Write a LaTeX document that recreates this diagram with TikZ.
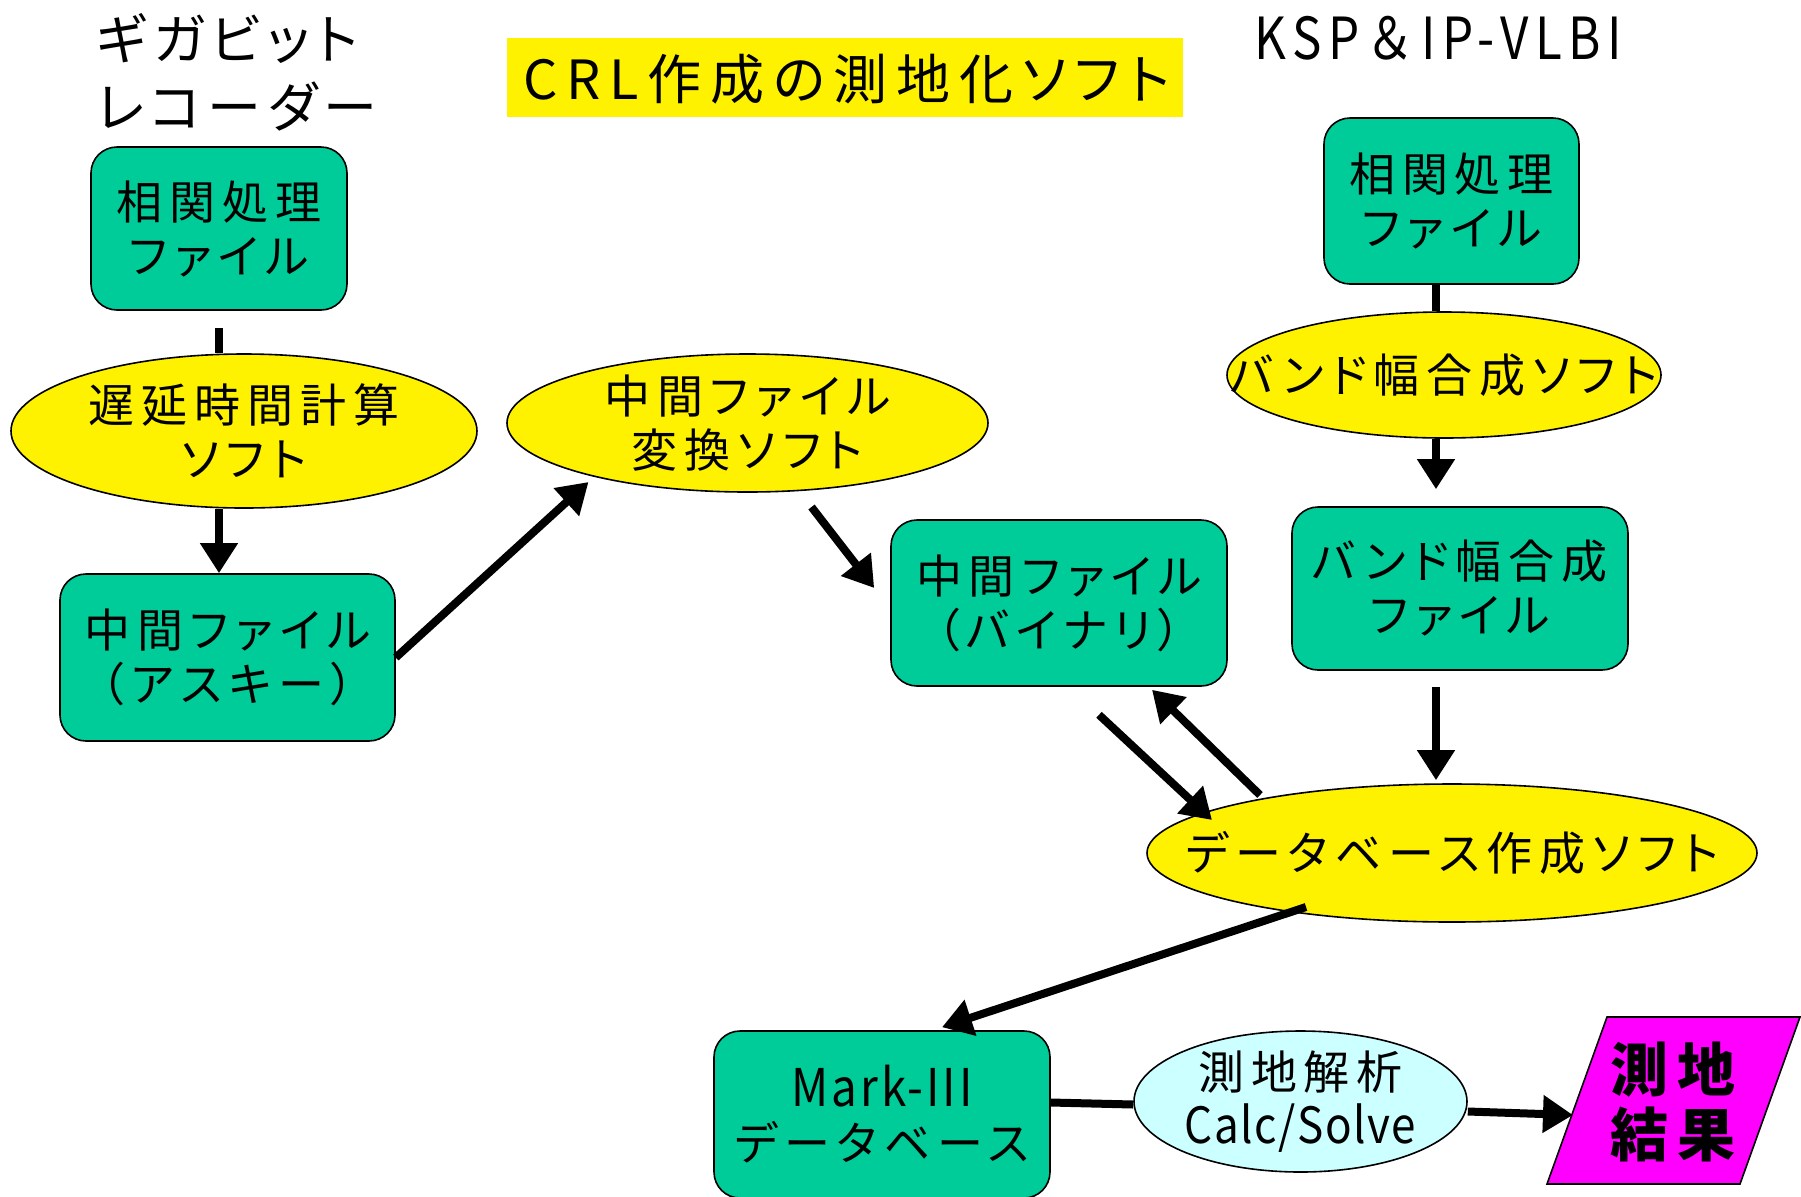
\documentclass[tikz,border=0pt]{standalone}
\usepackage{fontspec}
\usetikzlibrary{shapes.geometric,arrows.meta,calc}
\newfontfamily\jp[LetterSpace=15,RawFeature=+palt]{Noto Sans CJK JP}
\newfontfamily\jptitle[LetterSpace=16,RawFeature=+palt]{Noto Sans CJK JP}
\newfontfamily\jphead[LetterSpace=12,RawFeature=+palt]{Noto Sans CJK JP}
\newfontfamily\latn[FakeStretch=0.88,LetterSpace=6]{Noto Sans CJK JP}
\newfontfamily\latc[FakeStretch=0.88,LetterSpace=3]{Noto Sans CJK JP}
\newfontfamily\kspf[FakeStretch=0.85,LetterSpace=11]{Noto Sans CJK JP}
\definecolor{boxgreen}{RGB}{0,204,153}
\definecolor{calccyan}{RGB}{204,255,255}
\definecolor{resmag}{RGB}{255,0,255}
\begin{document}
\begin{tikzpicture}[x=0.5pt,y=-0.5pt,
  txt/.style={font=\fontsize{23}{27}\selectfont\jp, align=center, inner sep=0pt, text=black},
  tbox/.style={draw=black, line width=0.8pt, fill=boxgreen, rounded corners=13pt, inner sep=0pt},
  ell/.style={ellipse, draw=black, line width=0.8pt, fill=yellow, inner sep=0pt},
  lbl/.style={label={[txt]center:{#1}}},
  conn/.style={line width=4pt},
  arr/.style={line width=4pt, -{Triangle[length=15pt,width=18pt]}}]
\useasboundingbox (0,0) rectangle (1801,1196);

% headings
\node[txt, font=\fontsize{27}{34}\selectfont\jphead, align=left, anchor=west] (giga) at (96,72) {ギガビット\\レコーダー};
\node[fill=yellow, minimum width=338pt, minimum height=39.5pt, inner sep=0pt] (title) at (845,77.5) {};
\node[txt, font=\fontsize{27}{30}\selectfont\jptitle] (titlet) at (847,79) {CRL作成の測地化ソフト};
\node[txt, font=\fontsize{29}{30}\selectfont\kspf] (ksp) at (1438,38) {KSP＆IP-VLBI};

% left column
\node[tbox, minimum width=128pt, minimum height=81.5pt, lbl={相関処理\\ファイル}] (corrL) at (219,228.5) {};
\node[ell, minimum width=233pt, minimum height=77pt, lbl={遅延時間計算\\ソフト}] (delay) at (244,431) {};
\node[tbox, minimum width=167.5pt, minimum height=83.5pt, lbl={中間ファイル\\（アスキー）}] (ascii) at (227.5,657.5) {};

% middle
\node[ell, minimum width=240.5pt, minimum height=69pt, lbl={中間ファイル\\変換ソフト}] (conv) at (747.5,423) {};
\node[tbox, minimum width=168pt, minimum height=83pt, lbl={中間ファイル\\（バイナリ）}] (binary) at (1059,603) {};

% right column
\node[tbox, minimum width=127.5pt, minimum height=83pt, lbl={相関処理\\ファイル}] (corrR) at (1451.5,201) {};
\node[ell, minimum width=217pt, minimum height=63pt, lbl={バンド幅合成ソフト}] (bw) at (1444,375) {};
\node[tbox, minimum width=168pt, minimum height=81.5pt, lbl={バンド幅合成\\ファイル}] (bwfile) at (1460,588.5) {};
\node[ell, minimum width=305pt, minimum height=69pt, lbl={データベース作成ソフト}] (db) at (1452,853) {};

% bottom
\node[tbox, minimum width=168pt, minimum height=83.5pt, label={[txt]center:{{\latn\fontsize{26}{28}\selectfont Mark-III}\\データベース}}] (mark) at (882,1114.5) {};
\node[ell, fill=calccyan, minimum width=166.5pt, minimum height=70.5pt, label={[txt]center:{測地解析\\{\latc\fontsize{25}{28}\selectfont Calc/Solve}}}] (calc) at (1300.5,1101.5) {};
\draw[fill=resmag, draw=black, line width=0.8pt] (1547,1184) -- (1740,1184) -- (1800,1017) -- (1607,1017) -- cycle;
\node[txt, font=\fontsize{29}{32.5}\selectfont\jp\bfseries] (result) at (1673,1102) {測地\\結果};
\coordinate (resin) at (1573,1115);

% connectors
\coordinate (rx) at (1436,0);
\draw[conn] ($(corrL.south)+(0,17)$) -- (corrL.south |- delay.north);
\draw[arr] (corrL.south |- delay.south) -- (corrL.south |- ascii.north);
\draw[arr] (ascii.east) -- ($(conv.center)+(-159,59)$);
\draw[arr] ($(conv.center)+(64,84)$) -- ($(binary.west)+(-16,-15)$);
\draw[conn] (rx |- corrR.south) -- (rx |- bw.north);
\draw[arr] (rx |- bw.south) -- ($(rx |- bwfile.north)+(0,-17)$);
\draw[arr] ($(rx |- bwfile.south)+(0,16)$) -- ($(rx |- db.north)+(0,-3)$);
\draw[arr] ($(binary.south)+(40,28)$) -- ($(db.center)+(-240,-33)$);
\draw[arr] ($(db.center)+(-192,-58)$) -- ($(binary.south)+(93,3)$);
\draw[arr] ($(db.center)+(-146,54)$) -- ($(mark.north)+(60,-3)$);
\draw[conn] ($(mark.east)+(0,-12)$) -- ($(calc.west)+(0,3)$);
\draw[arr] ($(calc.east)+(0,10)$) -- (resin);
\end{tikzpicture}
\end{document}
